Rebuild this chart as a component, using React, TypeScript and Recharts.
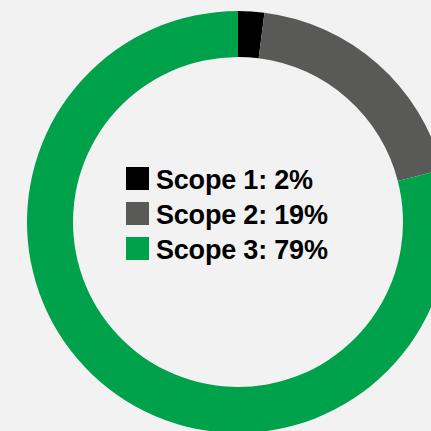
import React from 'react';
import { PieChart, Pie, Cell, Legend } from 'recharts';

const scopes = ['Scope 1', 'Scope 2', 'Scope 3'];
const shares = [2, 19, 79];
const colors = ['#000000', '#595957', '#00a14b'];

const data = scopes.map((name, i) => ({ name, value: shares[i] }));

const renderLegend = () => (
  <div style={{ fontFamily: '"Liberation Sans", Arial, sans-serif' }}>
    {data.map((d, i) => (
      <div key={d.name} style={{ display: 'flex', alignItems: 'flex-start', height: 35 }}>
        <div style={{ width: 23, height: 23, background: colors[i], flex: 'none' }} />
        <span
          style={{
            marginLeft: 7,
            fontSize: 27,
            fontWeight: 700,
            lineHeight: '23px',
            position: 'relative',
            top: 2,
            color: '#000',
            whiteSpace: 'nowrap',
            letterSpacing: -0.2,
          }}
        >
          {d.name}: {d.value}%
        </span>
      </div>
    ))}
  </div>
);

const App = () => {
  return (
    <div style={{ position: 'fixed', top: 0, left: 0, width: 431, height: 431, background: '#f2f2f2', overflow: 'hidden' }}>
      <PieChart width={431} height={431} margin={{ top: 0, right: 0, bottom: 0, left: 0 }}>
        <Pie
          data={data}
          dataKey="value"
          nameKey="name"
          cx={238}
          cy={222}
          innerRadius={165}
          outerRadius={211}
          startAngle={90}
          endAngle={-270}
          stroke="none"
          isAnimationActive={false}
        >
          {data.map((d, i) => (
            <Cell key={d.name} fill={colors[i]} />
          ))}
        </Pie>
        <Legend
          content={renderLegend}
          wrapperStyle={{ position: 'absolute', top: 167, left: 126, width: 'auto', height: 'auto' }}
        />
      </PieChart>
    </div>
  );
};

export default App;
